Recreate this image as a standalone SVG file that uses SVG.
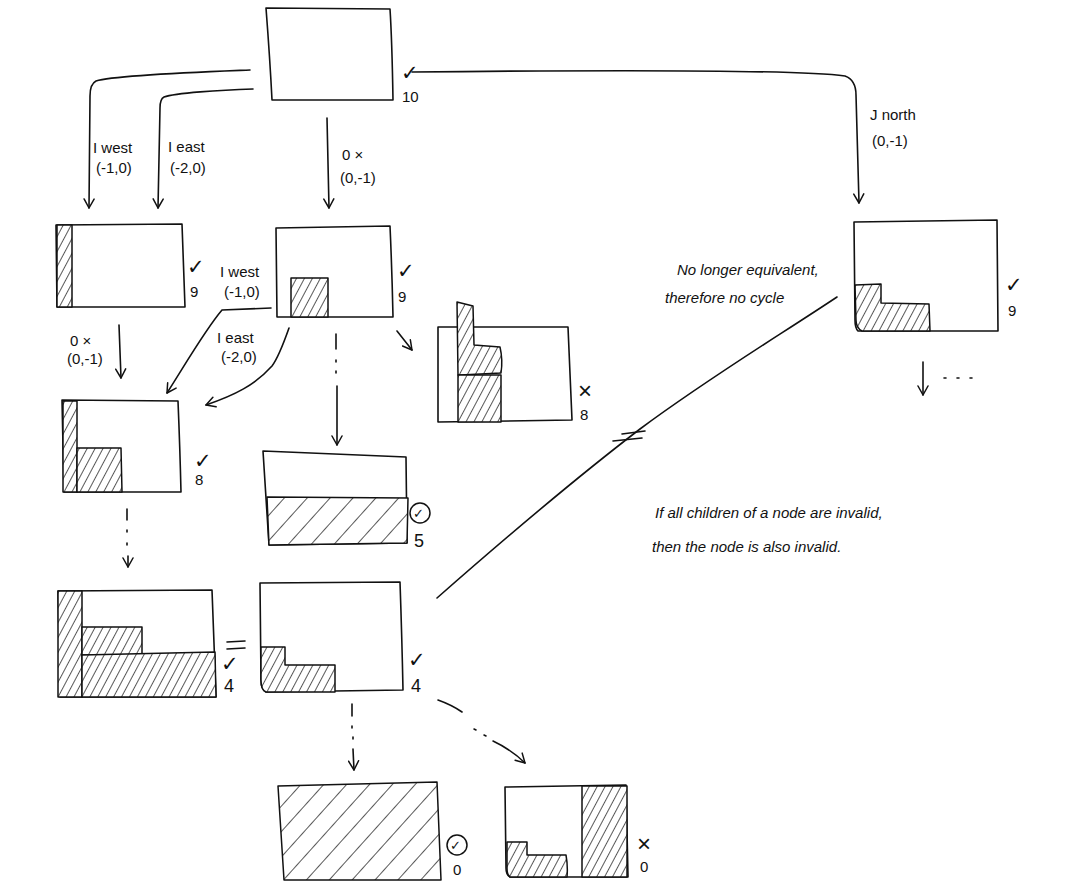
<svg xmlns="http://www.w3.org/2000/svg" width="1092" height="893" viewBox="0 0 1092 893">
<style>
.ln{fill:none;stroke:#111;stroke-width:1.6;stroke-linecap:round;stroke-linejoin:round}
.box{fill:#fff;stroke:#111;stroke-width:1.6;stroke-linejoin:round}
.h{fill:url(#hatch);stroke:#111;stroke-width:1.5;stroke-linejoin:round}
.hw{fill:url(#hatchWide);stroke:#111;stroke-width:1.5;stroke-linejoin:round}
.t{font-family:"Liberation Sans",Arial,sans-serif;font-size:15px;fill:#111}
.tm{font-family:"Liberation Sans",Arial,sans-serif;font-size:15px;fill:#111;font-style:italic}
.mk{font-family:"DejaVu Sans",sans-serif;font-size:21px;fill:#111}
.x{font-family:"Liberation Sans",Arial,sans-serif;font-size:24px;fill:#111}
.sm{font-family:"DejaVu Sans",sans-serif;font-size:13px;fill:#111}
</style>
<defs>
<pattern id="hatch" patternUnits="userSpaceOnUse" width="7" height="10" patternTransform="rotate(28)">
<rect width="7" height="10" fill="#fff"/>
<line x1="0" y1="0" x2="0" y2="10" stroke="#111" stroke-width="1.4"/>
</pattern>
<pattern id="hatchWide" patternUnits="userSpaceOnUse" width="17" height="10" patternTransform="rotate(42)">
<rect width="17" height="10" fill="#fff"/>
<line x1="0" y1="0" x2="0" y2="10" stroke="#111" stroke-width="1.4"/>
</pattern>
<marker id="arr" viewBox="0 0 12 12" refX="10" refY="6" markerWidth="12" markerHeight="12" markerUnits="userSpaceOnUse" orient="auto">
<path d="M1,1 L10,6 L1,11" fill="none" stroke="#111" stroke-width="1.5" stroke-linecap="round" stroke-linejoin="round"/>
</marker>
</defs>
<rect width="1092" height="893" fill="#fff"/>

<g id="connectors">
<path class="ln" d="M250,70 C200,72 115,75 96,81 Q90,84 90,96 L89,208" marker-end="url(#arr)"/>
<path class="ln" d="M253,89 C220,90 175,93 164,97 Q160,99 160,108 L158,208" marker-end="url(#arr)"/>
<path class="ln" d="M327,118 L329,208" marker-end="url(#arr)"/>
<path class="ln" d="M412,72 C600,70 800,70 845,76 Q856,80 856,95 L859,203" marker-end="url(#arr)"/>
<path class="ln" d="M119,325 L121,378" marker-end="url(#arr)"/>
<path class="ln" d="M271,308 L222,310 C205,330 185,365 167,393" marker-end="url(#arr)"/>
<path class="ln" d="M289,328 C283,345 278,358 272,366 C255,385 235,395 206,405" marker-end="url(#arr)"/>
<path class="ln" d="M336,334 L336,349 M336,360 L336,362 M336,371 L336,373 M337,386 L337,445" marker-end="url(#arr)"/>
<path class="ln" d="M397,331 L412,350" marker-end="url(#arr)"/>
<path class="ln" d="M127,509 L127,520 M127,530 L127,532 M127,543 L127,545 M128,556 L128,567" marker-end="url(#arr)"/>
<path class="ln" d="M437,598 C520,525 580,475 640,429 C710,377 780,335 837,297"/>
<path class="ln" d="M622,434 L645,431 M613,441 L642,438"/>
<path class="ln" d="M923,362 L923,395" marker-end="url(#arr)"/>
<path class="ln" d="M944,378 L946,378 M957,378 L959,378 M970,378 L972,378"/>
<path class="ln" d="M352,704 L352,716 M352,726 L352,728 M353,737 L353,739 M353,749 L354,770" marker-end="url(#arr)"/>
<path class="ln" d="M438,700 Q452,705 462,712 M474,729 L476,730 M484,735 L486,736 M493,741 Q512,750 525,763" marker-end="url(#arr)"/>
</g>

<g id="root">
<path class="box" d="M266,8 L390,9 Q392,40 393,100 L272,100 Q270,60 266,8 Z"/>
<text class="mk" x="401" y="80">✓</text>
<text class="t" x="402" y="102">10</text>
</g>

<g id="lbl-root-west"><text class="t" x="93" y="153">I west</text><text class="t" x="96" y="173">(-1,0)</text></g>
<g id="lbl-root-east"><text class="t" x="168" y="152">I east</text><text class="t" x="170" y="173">(-2,0)</text></g>
<g id="lbl-root-south"><text class="t" x="342" y="160">0 ×</text><text class="t" x="340" y="183">(0,-1)</text></g>
<g id="lbl-root-north"><text class="t" x="870" y="120">J north</text><text class="t" x="872" y="146">(0,-1)</text></g>
<g id="lbl-a-south"><text class="t" x="70" y="346">0 ×</text><text class="t" x="67" y="364">(0,-1)</text></g>
<g id="lbl-b-west"><text class="t" x="220" y="277">I west</text><text class="t" x="224" y="297">(-1,0)</text></g>
<g id="lbl-b-east"><text class="t" x="217" y="343">I east</text><text class="t" x="221" y="362">(-2,0)</text></g>

<g id="nodeA">
<path class="box" d="M56,225 L182,224 L185,307 L57,307 Z"/>
<rect class="h" x="57" y="225" width="15" height="82"/>
<text class="mk" x="187" y="274">✓</text>
<text class="t" x="190" y="297">9</text>
</g>

<g id="nodeB">
<path class="box" d="M276,228 L390,226 Q392,270 393,317 L277,317 Z"/>
<rect class="h" x="291" y="278" width="37" height="39"/>
<text class="mk" x="397" y="278">✓</text>
<text class="t" x="398" y="302">9</text>
</g>

<g id="nodeC">
<path class="box" d="M854,222 L997,220 L998,331 L858,331 Q855,328 855,320 Z"/>
<path class="h" d="M855,285 L881,284 L881,303 L929,304 L930,331 L862,331 Q856,328 856,320 Z"/>
<text class="mk" x="1005" y="292">✓</text>
<text class="t" x="1008" y="316">9</text>
</g>

<g id="nodeD">
<path class="box" d="M438,327 L568,327 Q570,370 572,420 L438,422 Z"/>
<path class="h" d="M457,302 L473,306 L474,345 L500,347 Q503,360 501,373 L460,375 L458,375 Z"/>
<rect class="h" x="458" y="375" width="43" height="47"/>
<text class="x" x="578" y="399">×</text>
<text class="t" x="580" y="420">8</text>
</g>

<g id="nodeE">
<path class="box" d="M62,400 L178,401 Q180,450 181,492 L64,492 Z"/>
<rect class="h" x="63" y="401" width="14" height="91"/>
<path class="h" d="M77,448 L121,448 L122,492 L77,492 Z"/>
<text class="mk" x="194" y="468">✓</text>
<text class="t" x="195" y="485">8</text>
</g>

<g id="nodeF">
<path class="box" d="M263,451 L406,457 L407,543 L269,545 Z"/>
<path class="hw" d="M267,497 L408,498 L407,543 L269,545 Z"/>
<circle cx="420" cy="513" r="10" fill="none" stroke="#111" stroke-width="1.5"/>
<text class="sm" x="413" y="518">✓</text>
<text class="t" x="414" y="547" style="font-size:18px">5</text>
</g>

<g id="nodeG">
<path class="box" d="M58,591 L212,590 Q214,640 216,697 L60,697 Z"/>
<rect class="h" x="58" y="591" width="24" height="106"/>
<path class="h" d="M82,627 L142,627 L142,655 L82,655 Z"/>
<path class="h" d="M82,655 L215,652 L216,697 L82,697 Z"/>
<path class="ln" d="M227,642 L245,641 M227,649 L245,648"/>
<text class="mk" x="221" y="671">✓</text>
<text class="t" x="224" y="692" style="font-size:18px">4</text>
</g>

<g id="nodeH">
<path class="box" d="M260,583 L400,582 Q402,640 403,690 L266,692 Q261,690 261,680 Z"/>
<path class="h" d="M261,647 L285,647 L285,665 L335,665 L335,692 L266,692 Q261,690 261,680 Z"/>
<text class="mk" x="408" y="667">✓</text>
<text class="t" x="411" y="692" style="font-size:18px">4</text>
</g>

<g id="nodeI">
<path class="hw" d="M278,786 L437,782 Q439,830 441,880 L284,880 Z"/>
<circle cx="457" cy="845" r="10" fill="none" stroke="#111" stroke-width="1.5"/>
<text class="sm" x="450" y="850">✓</text>
<text class="t" x="453" y="875">0</text>
</g>

<g id="nodeJ">
<path class="box" d="M505,787 L626,785 Q627,830 628,877 L510,877 Q506,875 506,868 Z"/>
<rect class="h" x="582" y="786" width="45" height="91"/>
<path class="h" d="M507,842 L527,842 L527,855 L566,855 Q568,866 567,877 L510,877 Q507,875 507,868 Z"/>
<text class="x" x="637" y="852">×</text>
<text class="t" x="640" y="872">0</text>
</g>

<g id="notes">
<text class="tm" x="677" y="275">No longer equivalent,</text>
<text class="tm" x="665" y="303">therefore no cycle</text>
<text class="tm" x="655" y="518">If all children of a node are invalid,</text>
<text class="tm" x="652" y="552">then the node is also invalid.</text>
</g>
</svg>
